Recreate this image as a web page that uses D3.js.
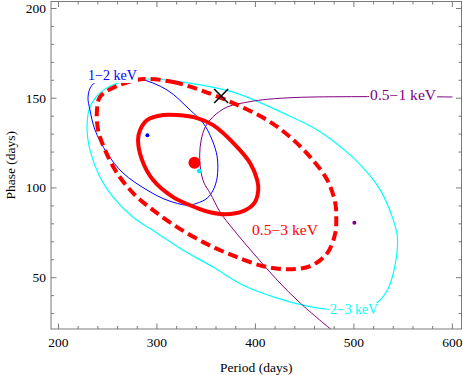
<!DOCTYPE html>
<html><head><meta charset="utf-8">
<script src="https://cdn.jsdelivr.net/npm/d3@7"></script>
<style>body{margin:0;background:#fff}svg{display:block}text{font-family:"Liberation Serif","Times New Roman",serif}</style>
</head><body><svg id="c" width="463" height="375"></svg>
<script>
// ---- data (period days, phase days) ----
const periodTicks = [200, 300, 400, 500, 600];
const phaseTicks = [50, 100, 150, 200];
const redSolid = [[280.8,126.7],[282.9,132.3],[290.0,137.8],[306.3,140.6],[320.5,140.6],[340.8,138.9],[357.1,135.0],[381.5,122.8],[394.7,113.8],[401.8,104.4],[402.9,98.8],[398.8,91.5],[387.6,87.1],[369.3,85.4],[354.0,86.5],[340.8,88.8],[316.4,94.9],[296.1,104.4],[284.9,115.5]];
const redDashed = [[285.9,160.7],[316.4,159.0],[343.9,154.6],[377.4,147.3],[412.0,137.8],[435.4,128.3],[455.7,117.2],[473.0,104.4],[481.1,91.5],[482.1,82.1],[481.1,74.8],[473.0,63.7],[455.7,56.4],[432.3,54.7],[407.9,56.4],[381.5,61.4],[364.2,65.3],[346.9,69.8],[320.5,78.2],[296.1,87.6],[275.8,97.1],[259.5,108.3],[247.3,121.1],[240.2,132.3],[239.1,143.4],[242.2,150.7],[259.5,156.8]];
const cyanBand = [[293.0,160.7],[326.6,159.0],[377.4,153.4],[428.3,141.7],[462.8,132.3],[496.4,118.3],[511.6,109.9],[526.9,98.8],[540.1,82.1],[544.2,72.6],[542.2,58.1],[534.0,43.0],[519.8,34.7],[496.4,32.4],[473.0,32.4],[452.7,34.1],[422.2,38.6],[387.6,45.8],[357.1,55.9],[326.6,65.3],[300.2,74.8],[275.8,83.7],[255.4,94.9],[242.2,106.0],[232.0,121.1],[229.0,133.9],[232.0,145.1],[242.2,152.9],[257.4,157.9],[275.8,160.1]];
const blueBand = [[280.8,161.2],[310.3,154.6],[333.7,143.4],[346.9,136.2],[356.1,126.7],[361.2,117.2],[361.2,106.0],[357.1,98.8],[351.0,94.3],[340.8,91.5],[330.7,90.4],[310.3,93.2],[290.0,98.8],[265.6,108.3],[249.3,119.4],[237.1,132.3],[232.0,143.4],[230.0,150.7],[234.1,157.3],[254.4,162.9]];
const purpleBand = [[600.1,150.7],[547.2,150.9],[513.7,150.9],[445.6,150.5],[412.0,149.4],[394.7,148.1],[371.3,145.1],[357.1,139.7],[349.0,133.9],[344.9,126.7],[343.4,118.3],[344.4,109.9],[347.9,102.7],[354.0,97.1],[364.2,86.5],[377.4,77.0],[397.8,63.7],[422.2,48.6],[445.6,35.8],[477.1,21.0]];
const bestFits = [
  {band:"0.5–3 keV", p:338.1, ph:114.0, color:"#ff0000", r:6},
  {band:"1–2 keV", p:290.3, ph:129.3, color:"#0000ff", r:2},
  {band:"2–3 keV", p:342.9, ph:109.4, color:"#00f0f0", r:2.3},
  {band:"0.5–1 keV", p:500.5, ph:80.6, color:"#800080", r:2}
];
const crossPoint = [365.2, 151.2];
const labels = [
  {text:"1−2 keV", p:254.8, ph:162.4, color:"#0000ff", w:49, bg:true},
  {text:"0.5−1 keV", p:550.0, ph:151.3, color:"#800080", w:66, bg:true},
  {text:"2−3 keV", p:500.1, ph:32.0, color:"#00ffff", w:48, bg:true},
  {text:"0.5−3 keV", p:430.1, ph:76.5, color:"#ff0000", w:66, bg:false}
];

const svg = d3.select("#c");
const L=51, R=461.5, T=1.5, B=329;
const x = d3.scaleLinear().domain([192.4, 609.3]).range([L, R]);
const y = d3.scaleLinear().domain([21.4, 203.9]).range([B, T]);

svg.append("clipPath").attr("id","clip").append("rect").attr("x",L).attr("y",T).attr("width",R-L).attr("height",B-T);
const g = svg.append("g").attr("clip-path","url(#clip)");

const closed = d3.line().x(d=>x(d[0])).y(d=>y(d[1])).curve(d3.curveCatmullRomClosed.alpha(0.5));
const open = d3.line().x(d=>x(d[0])).y(d=>y(d[1])).curve(d3.curveCatmullRom.alpha(0.5));

g.append("path").attr("d",closed(cyanBand)).attr("fill","none").attr("stroke","#00ffff").attr("stroke-width",1.2);
g.append("path").attr("d",closed(blueBand)).attr("fill","none").attr("stroke","#0000ff").attr("stroke-width",1);
g.append("path").attr("d",open(purpleBand)).attr("fill","none").attr("stroke","#800080").attr("stroke-width",1);
g.append("path").attr("d",closed(redDashed)).attr("fill","none").attr("stroke","#ff0000").attr("stroke-width",4).attr("stroke-dasharray","10,5");
g.append("path").attr("d",closed(redSolid)).attr("fill","none").attr("stroke","#ff0000").attr("stroke-width",4);

// labels
labels.forEach(l=>{
  const cx=x(l.p), cy=y(l.ph);
  if(l.bg) g.append("rect").attr("x",cx-l.w/2-1).attr("y",cy-7).attr("width",l.w+2).attr("height",14).attr("fill","#fff");
  g.append("text").attr("x",cx-l.w/2).attr("y",cy).attr("dominant-baseline","central")
    .attr("textLength",l.w).attr("lengthAdjust","spacingAndGlyphs")
    .attr("font-size","14px").attr("fill",l.color).text(l.text);
});

// points
bestFits.forEach(b=>{
  g.append("circle").attr("cx",x(b.p)).attr("cy",y(b.ph)).attr("r",b.r).attr("fill",b.color);
});
const cx0=x(crossPoint[0]), cy0=y(crossPoint[1]);
g.append("path").attr("d",`M${cx0-7},${cy0-7}L${cx0+7},${cy0+7}M${cx0-7},${cy0+7}L${cx0+7},${cy0-7}`)
  .attr("stroke","#000").attr("stroke-width",1.5);

// frame & ticks
const fc="#7a7a7a";
svg.append("rect").attr("x",L).attr("y",T).attr("width",R-L).attr("height",B-T).attr("fill","none").attr("stroke",fc).attr("stroke-width",1);
const xMinor = d3.range(200, 601, 20), yMinor = d3.range(30, 201, 10);
xMinor.forEach(v=>{
  const maj = periodTicks.includes(v), len = maj?5.5:3;
  svg.append("line").attr("x1",x(v)).attr("x2",x(v)).attr("y1",B).attr("y2",B-len).attr("stroke",fc);
  svg.append("line").attr("x1",x(v)).attr("x2",x(v)).attr("y1",T).attr("y2",T+len).attr("stroke",fc);
});
yMinor.forEach(v=>{
  const maj = phaseTicks.includes(v), len = maj?5.5:3;
  svg.append("line").attr("y1",y(v)).attr("y2",y(v)).attr("x1",L).attr("x2",L+len).attr("stroke",fc);
  svg.append("line").attr("y1",y(v)).attr("y2",y(v)).attr("x1",R).attr("x2",R-len).attr("stroke",fc);
});
periodTicks.forEach(v=>{
  svg.append("text").attr("x",x(v)).attr("y",342).attr("text-anchor","middle").attr("dominant-baseline","central")
    .attr("font-size","13.5px").attr("fill","#000").text(v);
});
phaseTicks.forEach(v=>{
  svg.append("text").attr("x",46).attr("y",y(v)).attr("text-anchor","end").attr("dominant-baseline","central")
    .attr("font-size","13.5px").attr("fill","#000").text(v);
});
svg.append("text").attr("x",(L+R)/2).attr("y",367).attr("text-anchor","middle").attr("dominant-baseline","central")
  .attr("font-size","13.5px").text("Period (days)");
svg.append("text").attr("transform",`translate(10,${(T+B)/2}) rotate(-90)`).attr("text-anchor","middle").attr("dominant-baseline","central")
  .attr("font-size","13.5px").text("Phase (days)");
</script></body></html>
